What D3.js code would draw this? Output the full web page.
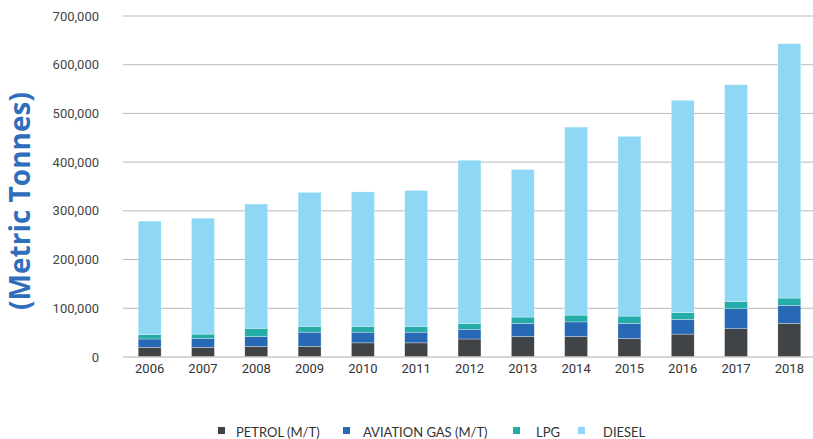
<!DOCTYPE html>
<html>
<head>
<meta charset="utf-8">
<script src="https://cdn.jsdelivr.net/npm/d3@7"></script>
<style>
  body { margin: 0; background: #fff; }
  #chart text { font-family: Roboto, "Noto Sans", sans-serif; }
</style>
</head>
<body>
<div id="chart"></div>
<script>
const years = ["2006", "2007", "2008", "2009", "2010", "2011", "2012", "2013", "2014", "2015", "2016", "2017", "2018"];
const petrol = [20000, 20000, 22000, 22000, 29000, 29000, 37000, 42000, 42000, 38000, 47000, 58000, 69000];
const aviation = [17000, 18000, 20000, 29000, 22000, 22000, 20000, 27000, 30000, 31000, 30000, 41000, 37000];
const lpg = [9000, 9000, 17000, 12000, 12000, 12000, 12000, 13000, 14000, 15000, 14000, 15000, 15000];
const diesel = [233000, 238000, 255000, 275000, 276000, 279000, 335000, 303000, 386000, 369000, 436000, 445000, 522000];
const yTicks = [0, 100000, 200000, 300000, 400000, 500000, 600000, 700000];
const seriesNames = ["PETROL (M/T)", "AVIATION GAS (M/T)", "LPG", "DIESEL"];

const colors = ["#404447", "#2769b5", "#26aca8", "#8ed8f5"];
const W = 813, H = 439;
const margin = { top: 16, right: -3, bottom: 82, left: 123 };
const w = W - margin.left - margin.right;
const h = H - margin.top - margin.bottom;

const rows = years.map((y, i) => ({ year: y, s0: petrol[i], s1: aviation[i], s2: lpg[i], s3: diesel[i] }));
const stack = d3.stack().keys(["s0", "s1", "s2", "s3"])(rows);

const svg = d3.select("#chart").append("svg")
  .attr("width", W).attr("height", H);
const g = svg.append("g").attr("transform", `translate(${margin.left},${margin.top})`);

const X = d3.scaleBand().domain(years).range([0, w]).paddingInner(0.57).paddingOuter(0.285);
const Y = d3.scaleLinear().domain([0, 700000]).range([h, 0]);

// gridlines
g.append("g").selectAll("line")
  .data(yTicks.filter(d => d > 0))
  .join("line")
  .attr("x1", 0).attr("x2", W - margin.left)
  .attr("y1", d => Y(d)).attr("y2", d => Y(d))
  .attr("stroke", "#b9b9b9").attr("stroke-width", 1);

// y tick labels
g.append("g").selectAll("text")
  .data(yTicks)
  .join("text")
  .attr("x", -24).attr("y", d => Y(d))
  .attr("dy", "0.35em")
  .attr("text-anchor", "end")
  .attr("fill", "#444")
  .style("font-size", "13px")
  .text(d => d3.format(",")(d));

// bars
g.append("g").selectAll("g")
  .data(stack)
  .join("g")
  .attr("fill", (d, i) => colors[i])
  .selectAll("rect")
  .data(d => d)
  .join("rect")
  .attr("x", d => X(d.data.year))
  .attr("y", d => Y(d[1]))
  .attr("width", X.bandwidth())
  .attr("height", d => Y(d[0]) - Y(d[1]))
  .attr("stroke", "#fff").attr("stroke-width", 0.5).attr("stroke-opacity", 0.6);

// baseline
g.append("line")
  .attr("x1", 0).attr("x2", W - margin.left)
  .attr("y1", h).attr("y2", h)
  .attr("stroke", "#c8c8c8").attr("stroke-width", 1.5);

// x labels
g.append("g").selectAll("text")
  .data(years)
  .join("text")
  .attr("x", d => X(d) + X.bandwidth() / 2)
  .attr("y", h + 16)
  .attr("text-anchor", "middle")
  .attr("fill", "#333")
  .style("font-size", "13px")
  .text(d => d);

// y axis title
svg.append("text")
  .attr("transform", "translate(30,201) rotate(-90)")
  .attr("text-anchor", "middle")
  .attr("fill", "#2f6eba")
  .style("font-size", "28px")
  .style("font-weight", "bold")
  .style("font-family", "'Open Sans', sans-serif")
  .text("(Metric Tonnes)");

// legend
const legendX = [218, 343, 513, 578];
const textX = [236, 363, 536, 603];
const legend = svg.append("g");
seriesNames.forEach((name, i) => {
  legend.append("rect")
    .attr("x", legendX[i]).attr("y", 427)
    .attr("width", 7).attr("height", 7)
    .attr("fill", colors[i]);
  legend.append("text")
    .attr("x", textX[i]).attr("y", 432)
    .attr("dy", "0.35em")
    .attr("fill", "#333")
    .style("font-family", "Lato, sans-serif")
    .style("font-size", "13px")
    .text(name);
});
</script>
</body>
</html>
